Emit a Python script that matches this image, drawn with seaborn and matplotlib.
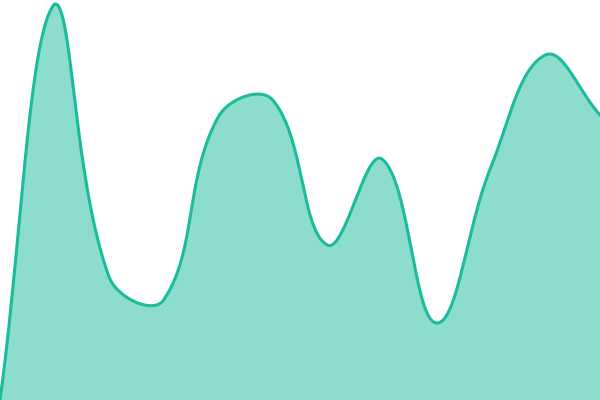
#!/usr/bin/env python3
import numpy as np
import pandas as pd
import matplotlib
matplotlib.use("Agg")
import matplotlib.pyplot as plt
import seaborn as sns

# data (y axis 0..400, 12 evenly spaced points)
steps = list(range(12))
values = [0, 396, 123, 100, 283, 300, 155, 241, 77, 233, 345, 285]

LINE_COLOR = "#1abc9c"
TENSION = 0.4


# bezier spline with distance-weighted control points, used only for drawing
def spline_curve(x, y, xscale, n=60, ylim=(0, 400)):
    px = np.asarray(x, dtype=float) * xscale
    py = np.asarray(y, dtype=float)
    k = len(px)
    cp_prev = np.zeros((k, 2))
    cp_next = np.zeros((k, 2))
    for i in range(k):
        prev = (px[max(i - 1, 0)], py[max(i - 1, 0)])
        cur = (px[i], py[i])
        nxt = (px[min(i + 1, k - 1)], py[min(i + 1, k - 1)])
        d01 = np.hypot(cur[0] - prev[0], cur[1] - prev[1])
        d12 = np.hypot(nxt[0] - cur[0], nxt[1] - cur[1])
        s01 = d01 / (d01 + d12)
        s12 = d12 / (d01 + d12)
        fa, fb = TENSION * s01, TENSION * s12
        cp_prev[i] = (cur[0] - fa * (nxt[0] - prev[0]), cur[1] - fa * (nxt[1] - prev[1]))
        cp_next[i] = (cur[0] + fb * (nxt[0] - prev[0]), cur[1] + fb * (nxt[1] - prev[1]))
    # keep control points inside the plot area
    for cp in (cp_prev, cp_next):
        cp[:, 0] = np.clip(cp[:, 0], px[0], px[-1])
        cp[:, 1] = np.clip(cp[:, 1], ylim[0], ylim[1])
    xs, ys = [], []
    for i in range(k - 1):
        t = np.linspace(0, 1, n, endpoint=(i == k - 2))[:, None]
        p0 = np.array([px[i], py[i]])
        p3 = np.array([px[i + 1], py[i + 1]])
        b = ((1 - t) ** 3) * p0 + 3 * ((1 - t) ** 2) * t * cp_next[i] \
            + 3 * (1 - t) * t**2 * cp_prev[i + 1] + t**3 * p3
        xs.append(b[:, 0] / xscale)
        ys.append(b[:, 1])
    return np.concatenate(xs), np.concatenate(ys)


if __name__ == "__main__":
    cx, cy = spline_curve(steps, values, xscale=600 / 11)
    curve = pd.DataFrame({"step": cx, "value": cy})

    fig = plt.figure(figsize=(6, 4), dpi=100)
    ax = fig.add_axes([0, 0, 1, 1])
    ax.fill_between(curve["step"], curve["value"], 0, color=LINE_COLOR, alpha=0.5, linewidth=0)
    sns.lineplot(data=curve, x="step", y="value", ax=ax, color=LINE_COLOR, linewidth=2.2,
                 sort=False, estimator=None)
    ax.set_xlim(0, 11)
    ax.set_ylim(0, 400)
    ax.axis("off")
    fig.savefig("out.png", dpi=100)
